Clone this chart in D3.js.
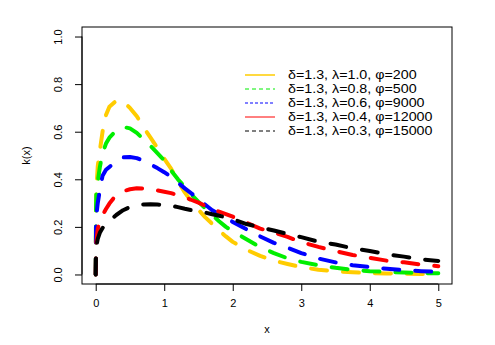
<!DOCTYPE html>
<html><head><meta charset="utf-8">
<script src="https://cdn.jsdelivr.net/npm/d3@7"></script>
<style>html,body{margin:0;padding:0;background:#fff;}svg{display:block;font-family:"Liberation Sans",Arial,Helvetica,sans-serif;}</style>
</head><body><div id="chart"></div>
<script>
const xs = [0,0.005,0.01,0.03,0.06,0.1,0.15,0.2,0.3,0.4,0.5,0.6,0.7,0.8,0.9,1.0,1.1,1.2,1.3,1.4,1.5,1.6,1.7,1.8,1.9,2.0,2.2,2.4,2.6,2.8,3.0,3.25,3.5,3.75,4.0,4.25,4.5,4.75,5.0];
const yellowY = [0,0.28,0.36,0.455,0.52,0.60,0.67,0.705,0.73,0.727,0.70,0.665,0.618,0.575,0.532,0.487,0.445,0.392,0.345,0.305,0.272,0.24,0.213,0.185,0.16,0.137,0.104,0.078,0.058,0.044,0.031,0.02,0.013,0.009,0.006,0.004,0.003,0.002,0.001];
const greenY = [0,0.28,0.35,0.39,0.45,0.51,0.55,0.575,0.605,0.62,0.614,0.595,0.568,0.54,0.51,0.48,0.437,0.40,0.368,0.335,0.305,0.278,0.25,0.224,0.2,0.182,0.148,0.115,0.09,0.068,0.053,0.039,0.028,0.019,0.014,0.011,0.008,0.006,0.005];
const blueY = [0,0.2,0.25,0.30,0.354,0.415,0.44,0.452,0.475,0.492,0.494,0.489,0.477,0.463,0.447,0.43,0.41,0.386,0.362,0.34,0.315,0.293,0.27,0.254,0.237,0.221,0.19,0.16,0.133,0.112,0.09,0.067,0.051,0.039,0.031,0.024,0.018,0.014,0.011];
const redY = [0,0.11,0.14,0.19,0.228,0.25,0.275,0.298,0.335,0.35,0.358,0.362,0.361,0.358,0.353,0.348,0.342,0.333,0.324,0.313,0.302,0.288,0.274,0.264,0.254,0.243,0.218,0.193,0.176,0.158,0.136,0.116,0.098,0.082,0.07,0.058,0.051,0.041,0.035];
const blackY = [0,0.09,0.12,0.15,0.175,0.195,0.213,0.225,0.25,0.27,0.283,0.29,0.294,0.295,0.294,0.292,0.289,0.283,0.276,0.27,0.265,0.26,0.253,0.247,0.24,0.232,0.212,0.198,0.185,0.17,0.157,0.138,0.126,0.11,0.099,0.085,0.075,0.064,0.057];
const seriesNames = ["δ=1.3, λ=1.0, φ=200","δ=1.3, λ=0.8, φ=500","δ=1.3, λ=0.6, φ=9000","δ=1.3, λ=0.4, φ=12000","δ=1.3, λ=0.3, φ=15000"];
const seriesColors = ["#FFCC00","#00EE00","#0000FF","#FF0000","#000000"];
const legendDash = [null,"4,3","3,2",null,"4,3"];
const xTicks = [0,1,2,3,4,5];
const yTicks = [0.0,0.2,0.4,0.6,0.8,1.0];

const W = 495, H = 345;
const L = 82, R = 452, T = 27, B = 284;
const svg = d3.select("#chart").append("svg").attr("width", W).attr("height", H);
svg.append("rect").attr("width", W).attr("height", H).attr("fill", "#fff");

const x = d3.scaleLinear().domain([-0.2, 5.2]).range([L, R]);
const y = d3.scaleLinear().domain([-0.04, 1.04]).range([B, T]);

const allY = [yellowY, greenY, blueY, redY, blackY];
const line = d3.line().x(d => x(d[0])).y(d => y(d[1]));

const g = svg.append("g");
allY.forEach((ys, i) => {
  g.append("path")
    .datum(xs.map((v, j) => [v, ys[j]]))
    .attr("d", line)
    .attr("fill", "none")
    .attr("stroke", seriesColors[i])
    .attr("stroke-width", 4)
    .attr("stroke-dasharray", "16,16")
    .attr("stroke-linecap", "round")
    .attr("stroke-linejoin", "round");
});

// box
svg.append("rect").attr("x", L).attr("y", T).attr("width", R - L).attr("height", B - T)
  .attr("fill", "none").attr("stroke", "#000").attr("stroke-width", 1);

// axes
const xAxis = d3.axisBottom(x).tickValues(xTicks).tickFormat(d3.format("d")).tickSize(7).tickPadding(8);
const gx = svg.append("g").attr("transform", `translate(0,${B})`).call(xAxis);
gx.select(".domain").attr("d", `M${x(0)},0H${x(5)}`);
gx.selectAll("text").attr("font-size", 11).attr("font-family", "Liberation Sans, Arial, sans-serif").attr("fill", "#000");

const yAxis = d3.axisLeft(y).tickValues(yTicks).tickFormat(d3.format(".1f")).tickSize(7).tickPadding(0);
const gy = svg.append("g").attr("transform", `translate(${L},0)`).call(yAxis);
gy.select(".domain").attr("d", `M0,${y(0)}V${y(1)}`);
gy.selectAll(".tick text")
  .attr("x", 0).attr("dy", null)
  .attr("font-size", 11).attr("font-family", "Liberation Sans, Arial, sans-serif").attr("fill", "#000")
  .attr("text-anchor", "middle")
  .attr("transform", "translate(-24,0) rotate(-90)")
  .attr("dominant-baseline", "central");

svg.append("text").attr("x", (L + R) / 2).attr("y", 333).attr("text-anchor", "middle")
  .attr("font-size", 11).text("x");
svg.append("text").attr("transform", `translate(30,${(T + B) / 2}) rotate(-90)`).attr("text-anchor", "middle")
  .attr("font-size", 11).text("k(x)");

// legend
const lg = svg.append("g");
seriesNames.forEach((name, i) => {
  const yy = 75 + i * 14;
  lg.append("line").attr("x1", 245).attr("x2", 275).attr("y1", yy).attr("y2", yy)
    .attr("stroke", seriesColors[i]).attr("stroke-width", i === 0 ? 1.5 : 1)
    .attr("stroke-dasharray", legendDash[i]);
  lg.append("text").attr("transform", `translate(288,${yy}) scale(1.19,1)`)
    .attr("dominant-baseline", "central")
    .attr("font-size", 12).text(name);
});
</script></body></html>
